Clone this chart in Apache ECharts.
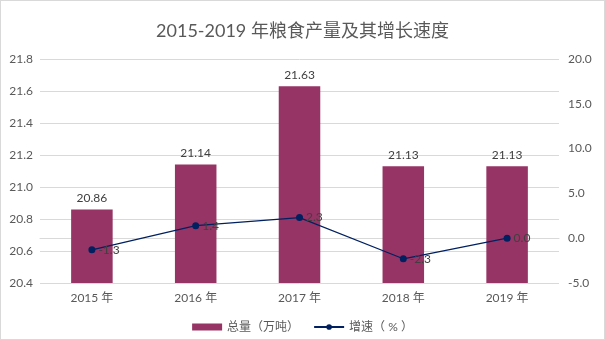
<!DOCTYPE html>
<html>
<head>
<meta charset="utf-8">
<script src="https://cdn.jsdelivr.net/npm/echarts@6/dist/echarts.min.js"></script>
<style>
  html, body { margin: 0; padding: 0; background: #fff; }
  #chart { width: 603px; height: 338px; border: 1px solid #d9d9d9; }
</style>
</head>
<body>
<div id="chart"></div>
<script>
// Grain output (10k tonnes) and year-on-year growth (%)
const years = ['2015年', '2016年', '2017年', '2018年', '2019年'];
const totalOutput = [20.86, 21.14, 21.63, 21.13, 21.13];
const growthRate = [-1.3, 1.4, 2.3, -2.3, 0.0];
const leftTicks = { min: 20.4, max: 21.8, step: 0.2 };
const rightTicks = { min: -5, max: 20, step: 5 };

const FONT = 'Lato, "Noto Sans CJK SC", sans-serif';
const chart = echarts.init(document.getElementById('chart'), null, { renderer: 'canvas' });

chart.setOption({
  backgroundColor: '#ffffff',
  animation: false,
  title: {
    text: '2015-2019 年粮食产量及其增长速度',
    left: 'center',
    top: 16,
    textStyle: { fontFamily: FONT, fontSize: 18, fontWeight: 'normal', color: '#595959' }
  },
  grid: { left: 39, right: 45, top: 58, bottom: 56 },
  legend: {
    bottom: 1,
    left: 'center',
    itemWidth: 30,
    itemHeight: 7,
    itemGap: 14,
    textStyle: { fontFamily: FONT, fontSize: 12, color: '#595959' },
    data: [
      { name: '总量（万吨）', icon: 'rect' },
      { name: '增速（ % ）' }
    ]
  },
  xAxis: {
    type: 'category',
    data: years,
    axisLine: { lineStyle: { color: '#d9d9d9' } },
    axisTick: { show: false },
    axisLabel: {
      fontFamily: FONT, fontSize: 12, color: '#595959', margin: 9,
      formatter: v => v.replace('年', ' 年')
    }
  },
  yAxis: [
    {
      type: 'value',
      min: leftTicks.min,
      max: leftTicks.max,
      interval: leftTicks.step,
      axisLine: { show: false },
      axisTick: { show: false },
      splitLine: { lineStyle: { color: '#d9d9d9' } },
      axisLabel: {
        fontFamily: FONT, fontSize: 12, color: '#595959', margin: 7,
        formatter: v => v.toFixed(1)
      }
    },
    {
      type: 'value',
      min: rightTicks.min,
      max: rightTicks.max,
      interval: rightTicks.step,
      axisLine: { show: false },
      axisTick: { show: false },
      splitLine: { show: false },
      axisLabel: {
        fontFamily: FONT, fontSize: 12, color: '#595959', margin: 9,
        formatter: v => v.toFixed(1)
      }
    }
  ],
  series: [
    {
      name: '总量（万吨）',
      type: 'bar',
      yAxisIndex: 0,
      z: 2,
      data: totalOutput,
      barWidth: '40%',
      itemStyle: { color: '#963465' },
      label: {
        show: true,
        position: 'top',
        distance: 5,
        fontFamily: FONT, fontSize: 12, color: '#404040',
        formatter: p => p.value.toFixed(2)
      }
    },
    {
      name: '增速（ % ）',
      type: 'line',
      yAxisIndex: 1,
      z: 10,
      data: growthRate,
      symbol: 'circle',
      symbolSize: 7,
      lineStyle: { color: '#002060', width: 1.2 },
      itemStyle: { color: '#002060' },
      label: {
        show: true,
        position: 'right',
        distance: 3,
        fontFamily: FONT, fontSize: 12, color: '#404040',
        textBorderWidth: 0,
        formatter: p => p.value.toFixed(1)
      }
    }
  ]
});
</script>
</body>
</html>
